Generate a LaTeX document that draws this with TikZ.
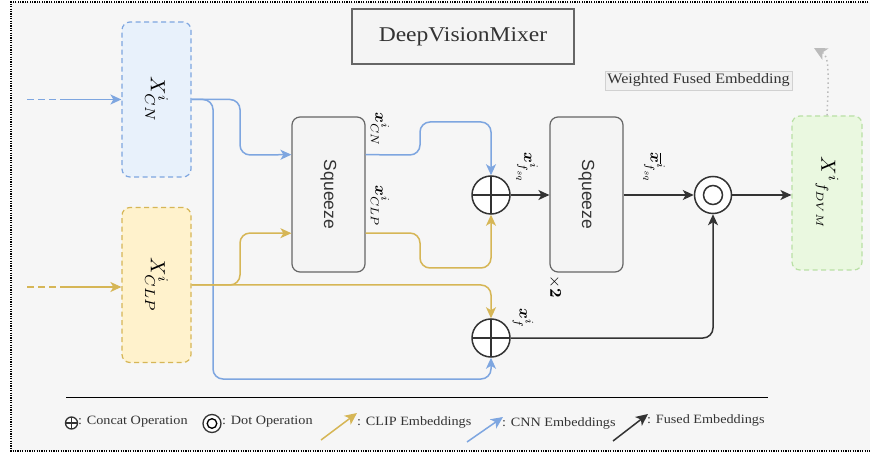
\documentclass[tikz,border=0pt]{standalone}
\usepackage{fontspec}
\setmainfont[FakeStretch=1.12]{Liberation Serif}
\newfontfamily\sqfont{Liberation Sans}
\usepackage{bm}
\usetikzlibrary{arrows.meta,calc}
\definecolor{bgc}{HTML}{F6F6F6}
\definecolor{blc}{HTML}{7EA6E0}
\definecolor{blf}{HTML}{E8F1FB}
\definecolor{ylc}{HTML}{D6B656}
\definecolor{ylf}{HTML}{FFF2CC}
\definecolor{grc}{HTML}{B9E0A5}
\definecolor{grf}{HTML}{EAF8E0}
\definecolor{dkc}{HTML}{333333}
\definecolor{sqc}{HTML}{666666}
\definecolor{sqf}{HTML}{F4F4F4}
\definecolor{ltg}{HTML}{BBBBBB}
\newcommand{\dvmBigMath}[1]{\scalebox{2.05}{$#1$}}
\newcommand{\dvmMidMath}[1]{\scalebox{1.65}{$#1$}}
\tikzset{
  inbox/.style={rectangle, rounded corners=8pt, line width=1.2pt, dash pattern=on 5pt off 3.5pt, minimum width=69pt, minimum height=155pt, inner sep=0pt},
  sqbox/.style={rectangle, rounded corners=8pt, draw=sqc, fill=sqf, line width=1.2pt, minimum width=73pt, minimum height=155pt, inner sep=0pt},
  opcat/.style={circle, draw=dkc, fill=white, line width=1.5pt, minimum size=#1, inner sep=0pt,
    path picture={\draw[dkc, line width=1.5pt] (path picture bounding box.north) -- (path picture bounding box.south) (path picture bounding box.west) -- (path picture bounding box.east);}},
  opdot/.style={circle, draw=dkc, fill=white, line width=1.5pt, minimum size=#1, inner sep=0pt},
  arr/.style={line width=1.5pt, -{Stealth[length=11pt, width=10pt, inset=3pt]}},
  larr/.style={line width=1.5pt, -{Stealth[length=12pt, width=11pt, inset=3pt]}},
  bl/.style={draw=blc, color=blc},
  yl/.style={draw=ylc, color=ylc},
  dk/.style={draw=dkc, color=dkc},
  rc/.style={rounded corners=10pt},
  vlab/.style={rotate=-90, inner sep=0pt, text=black},
  lgtext/.style={anchor=west, inner sep=0pt, font=\fontsize{12.7}{15}\selectfont, text=dkc},
}
\begin{document}
\begin{tikzpicture}[x=1pt, y=-1pt]
\useasboundingbox (0,0) rectangle (870,454);
% background frame
\fill[bgc] (11,2) rectangle (890,451);
\draw[black, line width=1.2pt, dash pattern=on 1.2pt off 1.2pt] (890,2) -- (11,2) -- (11,451) -- (890,451);

% title and label boxes
\node[draw=sqc, fill=sqf, line width=1.4pt, minimum width=222pt, minimum height=55pt, inner sep=0pt, text=dkc, font=\fontsize{21}{25}\selectfont] (title) at (463,36.5) {DeepVisionMixer};
\node[draw=black!18, fill=black!6, line width=0.8pt, minimum width=187pt, minimum height=19pt, inner sep=0pt, font=\fontsize{14.4}{17}\selectfont, text=dkc] (wfe) at (698.5,80.5) {Weighted Fused Embedding};

% input boxes
\node[inbox, draw=blc, fill=blf] (cn) at (156.5,99.5) {};
\node[inbox, draw=ylc, fill=ylf] (clp) at (156.5,285) {};
\node[inbox, draw=grc, fill=grf, minimum width=70pt, minimum height=154pt] (dvm) at (827,193) {};
\node[vlab] (cnlab) at (cn.center) {\dvmBigMath{X^{i}_{CN}}};
\node[vlab] (clplab) at (clp.center) {\dvmBigMath{X^{i}_{CLP}}};
\node[vlab] (dvmlab) at (dvm.center) {\dvmBigMath{{X^{i}}_{f_{DVM}}}};

% squeeze boxes
\node[sqbox] (sq1) at (328.5,194.5) {};
\node[sqbox] (sq2) at (586.5,194.5) {};
\node[vlab, text=dkc, font=\sqfont\fontsize{17.5}{20}\selectfont] (sq1lab) at (sq1.center) {Squeeze};
\node[vlab, text=dkc, font=\sqfont\fontsize{17.5}{20}\selectfont] (sq2lab) at (sq2.center) {Squeeze};

% operators
\node[opcat=38pt] (op1) at (491,195) {};
\node[opcat=38pt] (op2) at (491,338) {};
\node[opdot=37pt] (op3) at (713,195) {};
\draw[dkc, line width=1.5pt] (op3.center) circle (9.5pt);

% anchor points
\coordinate (sq1w1) at ($(sq1.north west)!0.245!(sq1.south west)$);
\coordinate (sq1w2) at ($(sq1.north west)!0.748!(sq1.south west)$);
\coordinate (sq1e1) at ($(sq1.north east)!0.245!(sq1.south east)$);
\coordinate (sq1e2) at ($(sq1.north east)!0.748!(sq1.south east)$);
\coordinate (cnin) at (27,99.5);
\coordinate (cnmid) at (62,99.5);
\coordinate (clpin) at (27,287);
\coordinate (clpmid) at (62,287);

% inputs
\draw[bl, line width=1.5pt, dash pattern=on 7pt off 4pt] (cnin) -- (cnmid);
\draw[bl, arr] (cnmid) -- (cn.west);
\draw[yl, line width=1.5pt, dash pattern=on 7pt off 4pt] (clpin) -- (clpmid);
\draw[yl, arr] (clpmid) -- (clp.west |- clpmid);

% CNN embeddings
\draw[bl, arr, rc] (cn.east) -- (240,99.5) -- (240,155) -- (sq1w1);
\draw[bl, arr, rc] (cn.east) -- (213,99.5) -- (213,379) -- (op2.south |- 0,379) -- (op2.south);
% CLIP embeddings
\draw[yl, arr, rc] (clp.east) -- (240,285) -- (240,233) -- (sq1w2);
\draw[yl, arr, rc] (clp.east) -- (op2.north |- 0,285) -- (op2.north);
% squeeze 1 outputs
\draw[bl, arr, rc] (sq1e1) -- (420,155) -- (420,122) -- (op1.north |- 0,122) -- (op1.north);
\draw[yl, arr, rc] (sq1e2) -- (420,233) -- (420,268) -- (op1.south |- 0,268) -- (op1.south);
% fused
\draw[dk, arr] (op1.east) -- (sq2.west |- op1.east);
\draw[dk, arr] (sq2.east |- op3.west) -- (op3.west);
\draw[dk, arr] (op3.east) -- (dvm.west |- op3.east);
\draw[dk, arr, rc] (op2.east) -- (op3.south |- op2.east) -- (op3.south);
% weighted output
\coordinate (wtip) at (814,48);
\draw[ltg, line width=1.5pt, dash pattern=on 1.5pt off 3pt, -{Stealth[length=13pt, width=13pt, inset=3.5pt]}] (dvm.north) .. controls (829,70) and (829,56) .. (wtip);

% edge labels
\node[vlab] (lcn) at (380,129) {\dvmMidMath{\bm{x}^{i}_{CN}}};
\node[vlab] (lclp) at (380,206) {\dvmMidMath{\bm{x}^{i}_{CLP}}};
\node[vlab] (lfsq) at (527,168) {\dvmMidMath{\bm{x}^{i}_{f_{sq}}}};
\node[vlab] (lbar) at (654,168) {\dvmMidMath{\overline{\bm{x}}^{i}_{f_{sq}}}};
\node[vlab] (lf) at (523,318) {\dvmMidMath{\bm{x}^{i}_{f}}};
\node[vlab] (ltimes) at (555,287) {\dvmMidMath{\times\bm{2}}};

% legend
\coordinate (lgl) at (66,397);
\coordinate (lgr) at (768,397);
\draw[black, line width=1pt] (lgl) -- (lgr);
\node[opcat=12pt, line width=1.3pt] (lgc) at (71.5,423) {};
\node[lgtext] (lgct) at (78,422) {: Concat Operation};
\node[opdot=18pt, line width=1.3pt] (lgd) at (212,423.5) {};
\draw[black, line width=1.3pt] (lgd.center) circle (4.8pt);
\node[lgtext] (lgdt) at (222,422) {: Dot Operation};
\coordinate (lya) at (321,440);
\coordinate (lyb) at (357,413);
\draw[yl, larr] (lya) -- (lyb);
\node[lgtext] (lyt) at (357,422) {: CLIP Embeddings};
\coordinate (lba) at (467,442);
\coordinate (lbb) at (503,417);
\draw[bl, larr] (lba) -- (lbb);
\node[lgtext] (lbt) at (502,423) {: CNN Embeddings};
\coordinate (lka) at (613,441);
\coordinate (lkb) at (648,414);
\draw[dk, larr] (lka) -- (lkb);
\node[lgtext] (lkt) at (647,420.5) {: Fused Embeddings};
\end{tikzpicture}
\end{document}
